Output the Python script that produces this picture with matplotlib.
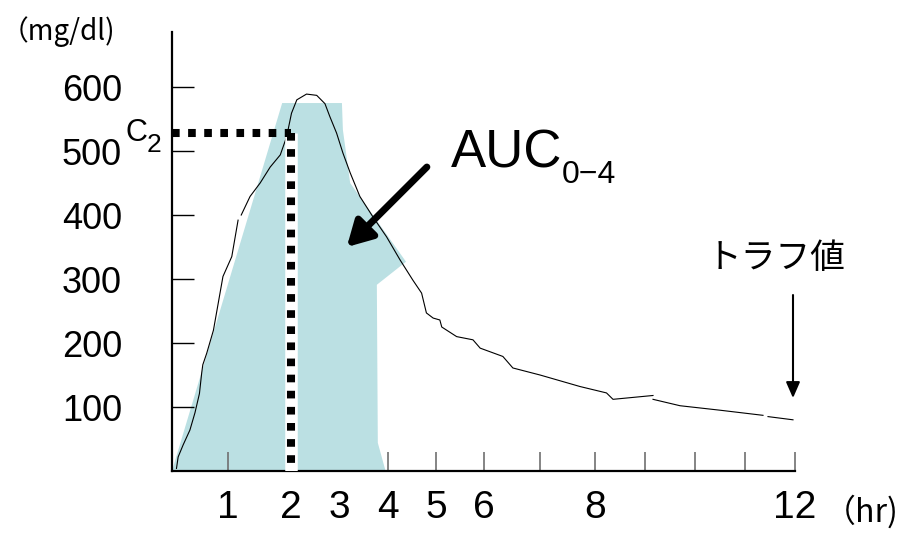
import numpy as np
import matplotlib
matplotlib.use('Agg')
import matplotlib.pyplot as plt

# blood level curve (hours, mg/dl); NaN = break in the pen line
curve_hr = [0.08, 0.11, 0.20, 0.32, 0.41, 0.49, 0.53, 0.55, 0.62, 0.74, 0.91,
            1.06, 1.16, np.nan,
            1.21, 1.35, 1.51, 1.67, 1.83, 1.93, 2.01, 2.12, 2.32, 2.53, 2.70,
            2.80, 2.94, 3.07, 3.22, 3.42, 3.69, 3.97, 4.25, 4.52, 4.70, 4.80,
            4.94, 5.08, 5.12, 5.43, 5.77, 5.92, 6.34, 6.52, 7.01, 7.73, 8.23,
            8.36, 9.16, np.nan, 9.16, 9.70, 10.5, 11.36, np.nan, 11.46, 11.96]
curve_mg = [4, 22, 41, 64, 91, 121, 153, 166, 184, 220, 304,
            335, 392, np.nan,
            400, 429, 450, 475, 494, 522, 559, 580, 589, 587, 574,
            554, 528, 497, 466, 429, 397, 366, 330, 298, 278, 247,
            239, 236, 225, 210, 205, 192, 179, 161, 150, 132, 122,
            112, 118, np.nan, 112, 102, 95, 87, np.nan, 85, 80]

# shaded AUC(0-4) area
auc_hr = [0, 1.86, 3.05, 3.07, 3.22, 4.375, 3.77, 3.79, 3.95]
auc_mg = [0, 575, 575, 533, 450, 327, 291, 44, 0]

c2_hr = 2
c2_mg = 528
trough_hr = 11.96
trough_mg = 80

y_ticks = [100, 200, 300, 400, 500, 600]
x_label_pos = [1, 2, 3, 4, 5, 6, 8, 12]
x_tick_marks = [1, 2, 4, 5, 6, 7, 8, 9, 10, 11, 12]

# the hand drawn time axis is not evenly spaced
axis_hr = [0, 1, 2, 4, 6, 8, 12]
axis_pos = [0, 56, 119, 216, 312, 423, 623]


def fwd(x):
    return np.interp(x, axis_hr, axis_pos)


def inv(x):
    return np.interp(x, axis_pos, axis_hr)


W, H = 909, 534


def fig_xy(x, y):
    return x / W, 1 - y / H


jp = ['Noto Sans CJK JP', 'DejaVu Sans']
num = ['Liberation Sans', 'DejaVu Sans']

fig = plt.figure(figsize=(W / 100, H / 100), dpi=100)
ax = fig.add_axes([172 / W, 63 / H, 623 / W, 439 / H])
ax.set_xscale('function', functions=(fwd, inv))
ax.set_xlim(0, 12)
ax.set_ylim(0, 686)

ax.fill(auc_hr, auc_mg, color='#bbe0e3', lw=0, zorder=1)
ax.plot(curve_hr, curve_mg, color='black', lw=0.8, zorder=2)

# C2 guide lines
ax.plot([c2_hr, c2_hr], [0, c2_mg], color='white', lw=9, solid_capstyle='butt', zorder=3)
ax.plot([0, c2_hr], [c2_mg, c2_mg], color='black', lw=5.8,
        linestyle=(0, (0.95, 1.05)), dash_capstyle='butt', zorder=4, clip_on=False)
ax.plot([c2_hr, c2_hr], [c2_mg, 0], color='black', lw=5.8,
        linestyle=(0, (0.95, 1.05)), dash_capstyle='butt', zorder=4)

# arrows
ax.annotate('', xy=(3.15, 350), xytext=(4.81, 475),
            arrowprops=dict(arrowstyle='-|>,head_length=0.75,head_width=0.42',
                            lw=5, color='black', mutation_scale=20,
                            shrinkA=0, shrinkB=0), zorder=5)
ax.annotate('', xy=(trough_hr, 114), xytext=(trough_hr, 275),
            arrowprops=dict(arrowstyle='-|>,head_length=0.8,head_width=0.35',
                            lw=1.5, color='black', mutation_scale=12,
                            shrinkA=0, shrinkB=0))

# axes styling
for s in ['top', 'right']:
    ax.spines[s].set_visible(False)
ax.spines['left'].set_linewidth(1.6)
ax.spines['bottom'].set_linewidth(1.6)

ax.set_yticks(y_ticks)
ax.set_yticklabels([str(v) for v in y_ticks], fontfamily=num, fontsize=26)
ax.tick_params(axis='y', direction='in', length=16, width=1, pad=36, color='black')

ax.xaxis.remove_overlapping_locs = False
ax.set_xticks(x_label_pos)
ax.set_xticklabels([str(v) for v in x_label_pos], fontfamily=num, fontsize=28)
ax.set_xticks(x_tick_marks, minor=True)
ax.tick_params(axis='x', which='major', length=0, pad=13.5)
ax.tick_params(axis='x', which='minor', direction='in', length=14, width=1.2,
               color='#707070')

# texts
fig.text(*fig_xy(1, 32), '（mg/dl)', fontfamily=jp, fontsize=20,
         ha='left', va='center')
fig.text(*fig_xy(824, 512), '（hr)', fontfamily=jp, fontsize=23,
         ha='left', va='center')
fig.text(*fig_xy(147, 141), 'C', fontfamily=num, fontsize=22, ha='right', va='baseline')
fig.text(*fig_xy(147, 152), '2', fontfamily=num, fontsize=19, ha='left', va='baseline')
fig.text(*fig_xy(451, 168), 'AUC', fontfamily=num, fontsize=38, ha='left', va='baseline')
fig.text(*fig_xy(562, 183), '0\u22124', fontfamily=num, fontsize=23, ha='left', va='baseline')
fig.text(*fig_xy(776, 258), 'トラフ値', fontfamily=jp, fontsize=25, ha='center', va='center')

fig.savefig('out.png', dpi=100)
